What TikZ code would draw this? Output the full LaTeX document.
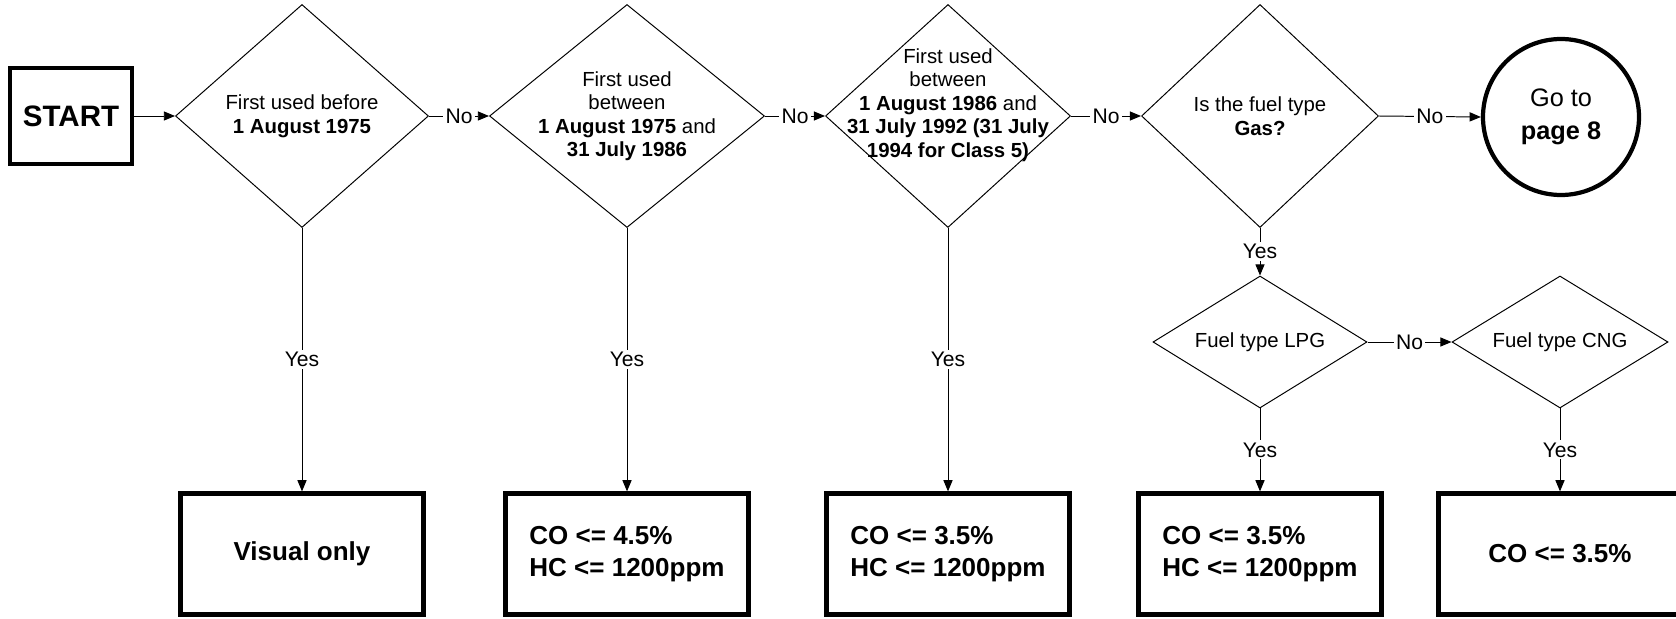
\documentclass[tikz,border=0pt]{standalone}
\usepackage{fontspec}
\setmainfont{Liberation Sans}
\usetikzlibrary{shapes.geometric,arrows.meta}

\begin{document}
\begin{tikzpicture}[every node/.style={font=\fontsize{14.5}{17}\selectfont},
  dec/.style={draw,diamond,line width=0.7pt,inner sep=0pt,minimum height=5.575cm},
  fuel/.style={draw,diamond,aspect=1.6,line width=0.7pt,inner sep=0pt,minimum width=5.4cm,minimum height=3.3cm},
  dtxt/.style={align=center,inner sep=0pt},
  res/.style={draw,line width=3pt,minimum width=6.075cm,minimum height=3.025cm,align=left,
    font=\bfseries\fontsize{18.5}{22.8}\selectfont},
  lbl/.style={fill=white,inner sep=1.5pt,font=\fontsize{15}{18}\selectfont},
  arr/.style={-{Triangle[length=8pt,width=6.5pt]},line width=0.7pt}]
\useasboundingbox (0,0) rectangle (41.9,-15.475);
% top row
\node[draw,line width=3pt,minimum width=3.05cm,minimum height=2.4cm,
  font=\bfseries\fontsize{21}{25}\selectfont] (start) at (1.775,-2.9) {START};
\node[dec,minimum width=6.325cm,label={[dtxt]center:First used before\\\textbf{1 August 1975}}] (d1) at (7.55,-2.9) {};
\node[dec,minimum width=6.875cm,label={[dtxt,font=\fontsize{14.5}{16.7}\selectfont]center:First used\\between\\\textbf{1 August 1975} and\\\textbf{31 July 1986}}] (d2) at (15.675,-2.9) {};
\node[dec,minimum width=6.125cm,label={[dtxt,yshift=0.275cm,font=\fontsize{14.5}{16.7}\selectfont]center:First used\\between\\\textbf{1 August 1986} and\\\textbf{31 July 1992 (31 July}\\\textbf{1994 for Class 5)}}] (d3) at (23.7,-2.9) {};
\node[dec,minimum width=5.925cm,label={[dtxt]center:Is the fuel type\\\textbf{Gas?}}] (gas) at (31.5,-2.9) {};
\node[draw,circle,line width=3pt,minimum size=3.9cm,align=center,
  font=\fontsize{18}{23.5}\selectfont] (goto) at (39.025,-2.925) {Go to\\\textbf{page 8}};
% gas types
\node[fuel,minimum width=5.35cm] (lpg) at (31.5,-8.55) {Fuel type LPG};
\node[fuel] (cng) at (39.0,-8.55) {Fuel type CNG};
% results
\node[res] (r1) at (7.55,-13.85) {Visual only};
\node[res] (r2) at (15.675,-13.85) {CO <= 4.5\%\\HC <= 1200ppm};
\node[res] (r3) at (23.7,-13.85) {CO <= 3.5\%\\HC <= 1200ppm};
\node[res] (r4) at (31.5,-13.85) {CO <= 3.5\%\\HC <= 1200ppm};
\node[res] (r5) at (39.0,-13.85) {CO <= 3.5\%};
% connectors
\draw[arr] (start) -- (d1);
\draw[arr] (d1.east) -- node[lbl] {No} (d2.west);
\draw[arr] (d2.east) -- node[lbl] {No} (d3.west);
\draw[arr] (d3.east) -- node[lbl] {No} (gas.west);
\draw[arr] (gas.east) -- node[lbl] {No} (goto.west);
\draw[arr] (lpg.east) -- node[lbl] {No} (cng.west);
\draw[arr] (d1.south) -- node[lbl] {Yes} (r1.north);
\draw[arr] (d2.south) -- node[lbl] {Yes} (r2.north);
\draw[arr] (d3.south) -- node[lbl] {Yes} (r3.north);
\draw[arr] (gas.south) -- node[lbl] {Yes} (lpg.north);
\draw[arr] (lpg.south) -- node[lbl] {Yes} (r4.north);
\draw[arr] (cng.south) -- node[lbl] {Yes} (r5.north);
\end{tikzpicture}
\end{document}
